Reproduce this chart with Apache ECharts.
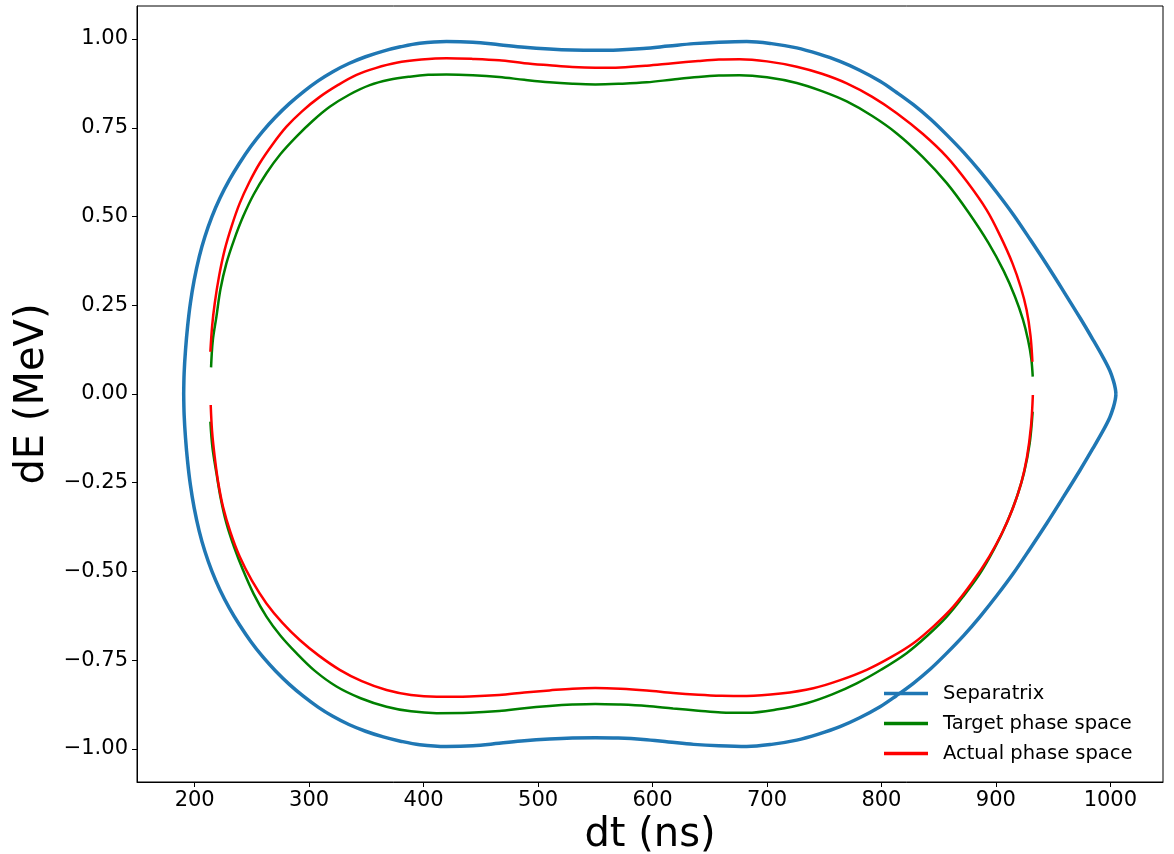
<!DOCTYPE html>
<html>
<head>
<meta charset="utf-8">
<title>Phase space</title>
<script src="https://cdn.jsdelivr.net/npm/echarts@6/dist/echarts.min.js"></script>
<style>
  html, body { margin: 0; padding: 0; background: #fff; }
  #chart { width: 1174px; height: 854px; }
</style>
</head>
<body>
<div id="chart"></div>
<script>
// tick values
var xTicks = [200, 300, 400, 500, 600, 700, 800, 900, 1000];
var yTicks = [-1, -0.75, -0.5, -0.25, 0, 0.25, 0.5, 0.75, 1];

// separatrix, upper half then lower half (dt ns, dE MeV)
var sepUpper = [
  [190.4, 0], [190.8, 0.06], [192, 0.124], [193.8, 0.19], [196.2, 0.255], [199.5, 0.32],
  [204, 0.387], [208.9, 0.443], [215, 0.499], [222.1, 0.552], [230.3, 0.603], [239.1, 0.650],
  [249, 0.697], [259.4, 0.740], [270.9, 0.781], [282.7, 0.818], [295.2, 0.852], [307.8, 0.882],
  [320.7, 0.908], [334.7, 0.931], [349.3, 0.950], [364.8, 0.966], [379.8, 0.978], [396.6, 0.988],
  [420, 0.993], [443, 0.991], [466, 0.984], [488, 0.977], [510, 0.972], [530, 0.969],
  [550, 0.968], [570, 0.969], [592, 0.973], [614, 0.980], [636, 0.987], [658, 0.991],
  [682.3, 0.993], [704, 0.987], [726, 0.975], [745, 0.958], [763.8, 0.937], [781, 0.912],
  [798.8, 0.881], [813, 0.850], [827.9, 0.815], [843, 0.774], [857.1, 0.730], [872, 0.680],
  [886.2, 0.627], [901, 0.567], [915.3, 0.505], [930, 0.435], [944.5, 0.364], [959, 0.290],
  [973.6, 0.214], [985, 0.152], [994, 0.101], [999.5, 0.066], [1002.7, 0.037], [1004.3, 0.016],
  [1004.9, 0]
];
var sepLower = [
  [1004.9, 0], [1004.3, -0.016], [1002.7, -0.037], [999.5, -0.066], [994, -0.101], [985, -0.152],
  [973.6, -0.214], [959, -0.290], [944.5, -0.364], [930, -0.435], [915.3, -0.505], [901, -0.567],
  [886.2, -0.627], [872, -0.680], [857.1, -0.730], [843, -0.774], [827.9, -0.815], [813, -0.850],
  [798.8, -0.881], [781, -0.912], [763.8, -0.937], [745, -0.958], [726, -0.975], [704, -0.987],
  [682.3, -0.993], [658, -0.991], [636, -0.987], [614, -0.980], [592, -0.973], [570, -0.969],
  [550, -0.968], [530, -0.969], [510, -0.972], [488, -0.977], [466, -0.984], [443, -0.991],
  [420, -0.993], [396.6, -0.988], [379.8, -0.978], [364.8, -0.966], [349.3, -0.950], [334.7, -0.931],
  [320.7, -0.908], [307.8, -0.882], [295.2, -0.852], [282.7, -0.818], [270.9, -0.781], [259.4, -0.740],
  [249, -0.697], [239.1, -0.650], [230.3, -0.603], [222.1, -0.552], [215, -0.499], [208.9, -0.443],
  [204, -0.387], [199.5, -0.32], [196.2, -0.255], [193.8, -0.19], [192, -0.124], [190.8, -0.06],
  [190.4, 0]
];

// target phase space
var targetUpper = [
  [214.3, 0.075], [215.8, 0.15], [219, 0.218], [222.5, 0.295], [227.7, 0.368], [234.5, 0.435],
  [242.2, 0.499], [251.5, 0.562], [262.7, 0.622], [275, 0.676], [288.9, 0.725], [303, 0.769],
  [318, 0.809], [335, 0.843], [353, 0.870], [370, 0.885], [388, 0.894], [404, 0.899],
  [420, 0.900], [443, 0.898], [466, 0.893], [488, 0.885], [510, 0.878], [530, 0.874],
  [550, 0.872], [572, 0.874], [595, 0.878], [618, 0.886], [640, 0.893], [658, 0.897],
  [676, 0.898], [700, 0.892], [726, 0.876], [748, 0.853], [769.7, 0.824], [792, 0.783],
  [813.4, 0.734], [836, 0.668], [857.1, 0.594], [876, 0.512], [893.6, 0.425], [906.9, 0.346],
  [916.7, 0.274], [923.6, 0.210], [928.1, 0.152], [930.9, 0.100], [932.2, 0.049]
];
var targetLower = [
  [213.7, -0.078], [215.5, -0.15], [219, -0.223], [222.8, -0.295], [227.7, -0.364], [234.5, -0.432],
  [242.2, -0.496], [251.5, -0.563], [262.7, -0.627], [275, -0.681], [288.9, -0.730], [305, -0.780],
  [323.9, -0.824], [345, -0.857], [367.6, -0.881], [389, -0.894], [411.3, -0.899], [440, -0.898],
  [466, -0.893], [488, -0.885], [510, -0.879], [530, -0.875], [550, -0.873], [572, -0.875],
  [595, -0.879], [618, -0.886], [640, -0.892], [660, -0.897], [682.3, -0.898], [708, -0.889],
  [734.6, -0.871], [757, -0.846], [778.4, -0.815], [800, -0.776], [822, -0.730], [840, -0.681],
  [857.1, -0.627], [872, -0.568], [886.2, -0.505], [898.4, -0.437], [909.4, -0.364], [918, -0.293],
  [924.5, -0.223], [929.5, -0.140], [932.1, -0.050]
];

// actual phase space
var actualUpper = [
  [213.7, 0.119], [215.2, 0.19], [217.5, 0.255], [221.3, 0.332], [226.2, 0.406], [232.3, 0.473],
  [239.3, 0.537], [247.5, 0.595], [256.8, 0.650], [268, 0.703], [280.2, 0.753], [294, 0.797],
  [309.3, 0.837], [325, 0.870], [341.4, 0.899], [358, 0.918], [376.3, 0.933], [398, 0.942],
  [420, 0.946], [443, 0.944], [466, 0.940], [488, 0.932], [510, 0.926], [530, 0.921],
  [550, 0.919], [572, 0.920], [595, 0.925], [618, 0.932], [640, 0.938], [658, 0.942],
  [676, 0.943], [700, 0.937], [726, 0.922], [748, 0.902], [769.7, 0.875], [792, 0.837],
  [813.4, 0.791], [836, 0.733], [857.1, 0.668], [875, 0.597], [892, 0.518], [904, 0.444],
  [914.5, 0.368], [921.8, 0.300], [926.8, 0.237], [930.2, 0.165], [931.9, 0.091]
];
var actualLower = [
  [214, -0.031], [215.2, -0.105], [217.5, -0.177], [220.5, -0.248], [224.7, -0.317], [231.3, -0.390],
  [239.3, -0.458], [250, -0.526], [262.7, -0.590], [276.5, -0.644], [291.8, -0.693], [308.5, -0.737],
  [326.7, -0.777], [346, -0.809], [367.6, -0.834], [389, -0.848], [411.3, -0.853], [440, -0.852],
  [466, -0.848], [488, -0.841], [510, -0.835], [530, -0.830], [550, -0.828], [572, -0.830],
  [595, -0.835], [618, -0.842], [640, -0.847], [660, -0.850], [682.3, -0.851], [712, -0.844],
  [740.5, -0.829], [764, -0.806], [787.1, -0.777], [808, -0.742], [827.9, -0.702], [846, -0.653],
  [862.8, -0.599], [879, -0.532], [894.2, -0.458], [905.9, -0.388], [915.4, -0.317], [922.6, -0.245],
  [927.2, -0.177], [930.7, -0.090], [932.3, -0.003]
];

var chart = echarts.init(document.getElementById('chart'));

function curve(name, data, color, width) {
  return {
    name: name,
    type: 'line',
    data: data,
    symbol: 'none',
    smooth: 0.35,
    animation: false,
    lineStyle: { color: color, width: width },
    itemStyle: { color: color }
  };
}

var option = {
  backgroundColor: '#fff',
  textStyle: { fontFamily: 'DejaVu Sans' },
  grid: {
    left: 137, right: 11, top: 6, bottom: 72,
    containLabel: false,
    outerBoundsMode: 'none',
    show: true, borderColor: '#000', borderWidth: 1
  },
  legend: {
    orient: 'vertical',
    left: 884,
    top: 682,
    padding: 0,
    icon: 'rect',
    itemWidth: 44,
    itemHeight: 3.5,
    itemGap: 7,
    textStyle: { fontSize: 19.5, lineHeight: 23, color: '#000', fontFamily: 'DejaVu Sans', padding: [0, 0, 0, 10] },
    data: ['Separatrix', 'Target phase space', 'Actual phase space']
  },
  xAxis: {
    type: 'value',
    min: 149.6,
    max: 1046,
    name: 'dt (ns)',
    nameLocation: 'middle',
    nameGap: 32,
    nameTextStyle: { fontSize: 40, color: '#000', fontFamily: 'DejaVu Sans' },
    axisLine: { show: true, onZero: false, lineStyle: { color: '#000', width: 1 } },
    axisTick: { show: true, length: 5, lineStyle: { color: '#000' }, customValues: xTicks },
    axisLabel: {
      fontSize: 21, color: '#000', margin: 8, customValues: xTicks,
      formatter: function (v) { return String(v); }
    },
    splitLine: { show: false }
  },
  yAxis: {
    type: 'value',
    min: -1.093,
    max: 1.093,
    name: 'dE (MeV)',
    nameLocation: 'middle',
    nameGap: 66,
    nameRotate: 90,
    nameTextStyle: { fontSize: 40, color: '#000', fontFamily: 'DejaVu Sans' },
    axisLine: { show: true, onZero: false, lineStyle: { color: '#000', width: 1 } },
    axisTick: { show: true, length: 5, lineStyle: { color: '#000' }, customValues: yTicks },
    axisLabel: {
      fontSize: 21, color: '#000', margin: 9, customValues: yTicks,
      formatter: function (v) {
        var s = Math.abs(v).toFixed(2);
        return v < 0 ? '\u2212' + s : s;
      }
    },
    splitLine: { show: false }
  },
  series: [
    curve('Separatrix', sepUpper, '#1f77b4', 3.5),
    curve('Separatrix', sepLower, '#1f77b4', 3.5),
    curve('Target phase space', targetUpper, '#008000', 2.5),
    curve('Target phase space', targetLower, '#008000', 2.5),
    curve('Actual phase space', actualUpper, '#ff0000', 2.5),
    curve('Actual phase space', actualLower, '#ff0000', 2.5)
  ]
};

chart.setOption(option);
</script>
</body>
</html>
